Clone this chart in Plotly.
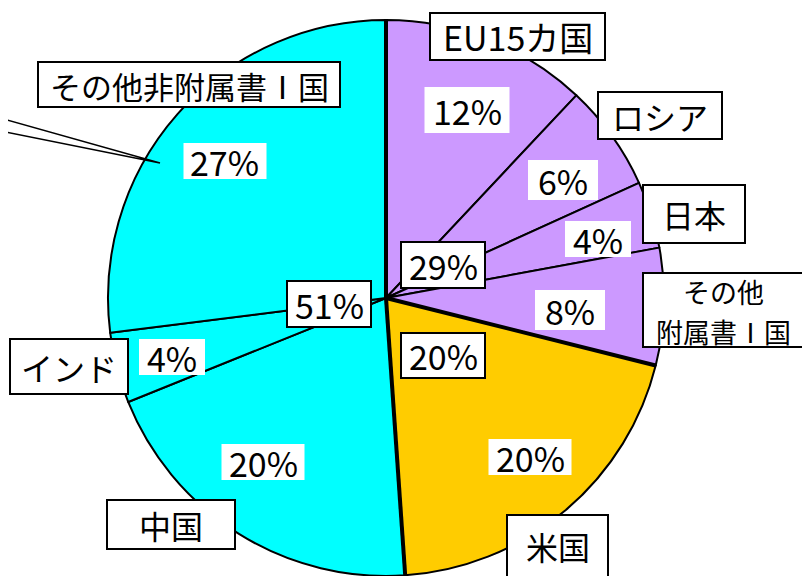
import math
import plotly.graph_objects as go

# ---------------- data ----------------
categories = ["EU15カ国", "ロシア", "日本", "その他<br>附属書Ⅰ国", "米国", "中国", "インド", "その他非附属書Ⅰ国"]
shares = [12.0, 6.2, 3.9, 6.8, 20.0, 20.0, 4.1, 27.0]
share_labels = ["12%", "6%", "4%", "8%", "20%", "20%", "4%", "27%"]
group_members = [[0, 1, 2, 3], [4], [5, 6, 7]]
group_labels = ["29%", "20%", "51%"]

# ---------------- styles / layout ----------------
W, H = 810, 576
OFF = 8  # page body margin
colors = ["#CC99FF", "#CC99FF", "#CC99FF", "#CC99FF", "#FFCC00", "#00FFFF", "#00FFFF", "#00FFFF"]
CX, CY, R = 386, 298, 278  # pie centre / radius in screen pixels
FONT = "Noto Sans CJK JP"

# name boxes (x0, y0, x1, y1) in screen pixels
name_boxes = [(430, 13, 605, 60), (598, 92, 722, 139), (643, 185, 745, 243), (643, 273, 804, 347),
              (507, 515, 608, 585), (107, 500, 235, 549), (10, 339, 128, 394), (38, 62, 340, 107)]
name_text_y = [37, 116, 214, 311, 546, 525, 367, 85]
name_sizes = [34, 32, 32, 27, 32, 32, 32, 31]
# percent boxes (cx, cy, w, h)
pct_boxes = [(467, 110, 85, 46), (563, 180, 70, 40), (598, 239, 66, 36), (570, 310, 70, 40),
             (530, 457, 83, 36), (263, 462, 83, 36), (172, 357, 66, 36), (225, 161, 83, 36)]
group_boxes = [(401, 242, 485, 288), (401, 333, 485, 378), (287, 281, 371, 327)]
LINE_PITCH = 40


def px(x):
    return (x - OFF) / W


def py(y):
    return 1 - (y - OFF) / H


fig = go.Figure(go.Pie(
    labels=categories, values=shares, sort=False, direction="clockwise", rotation=0,
    marker=dict(colors=colors, line=dict(color="black", width=2)),
    textinfo="none", hoverinfo="label+percent", showlegend=False,
    domain=dict(x=[px(CX - R), px(CX + R)], y=[py(CY + R), py(CY - R)]),
))

shapes = []
ann = []

# thick group boundary lines, derived from the data
total = sum(shares)
cum = 0.0
bounds = [0.0]
for members in group_members[:-1]:
    cum += sum(shares[i] for i in members)
    bounds.append(cum)
for b in bounds:
    th = 2 * math.pi * b / total
    ex = CX + R * math.sin(th)
    ey = CY - R * math.cos(th)
    shapes.append(dict(type="line", xref="paper", yref="paper", x0=px(CX), y0=py(CY),
                       x1=px(ex), y1=py(ey), line=dict(color="black", width=4)))

# callout pointer lines at left
shapes.append(dict(type="path", xref="paper", yref="paper",
                   path=f"M {px(0)},{py(118)} L {px(160)},{py(163)} L {px(0)},{py(131)}",
                   line=dict(color="black", width=1.5)))

# name label boxes
for name, size, ty, (x0, y0, x1, y1) in zip(categories, name_sizes, name_text_y, name_boxes):
    shapes.append(dict(type="rect", xref="paper", yref="paper", x0=px(x0), y0=py(y1), x1=px(x1), y1=py(y0),
                       fillcolor="white", line=dict(color="black", width=2)))
    lines = name.split("<br>")
    n = len(lines)
    for k, txt in enumerate(lines):
        yy = ty + (k - (n - 1) / 2) * LINE_PITCH
        ann.append(dict(x=px((x0 + x1) / 2), y=py(yy), xref="paper", yref="paper", text=txt,
                        showarrow=False, font=dict(family=FONT, size=size, color="black"),
                        xanchor="center", yanchor="middle"))

# group percentage boxes
for lab, (x0, y0, x1, y1) in zip(group_labels, group_boxes):
    shapes.append(dict(type="rect", xref="paper", yref="paper", x0=px(x0), y0=py(y1), x1=px(x1), y1=py(y0),
                       fillcolor="white", line=dict(color="black", width=2)))
    ann.append(dict(x=px((x0 + x1) / 2), y=py((y0 + y1) / 2), xref="paper", yref="paper", text=lab,
                    showarrow=False, font=dict(family=FONT, size=34, color="black"),
                    xanchor="center", yanchor="middle"))

# slice percentage boxes
for lab, (x, y, w, h) in zip(share_labels, pct_boxes):
    shapes.append(dict(type="rect", xref="paper", yref="paper", x0=px(x - w / 2), y0=py(y + h / 2),
                       x1=px(x + w / 2), y1=py(y - h / 2), fillcolor="white", line=dict(width=0)))
    ann.append(dict(x=px(x), y=py(y), xref="paper", yref="paper", text=lab, showarrow=False,
                    font=dict(family=FONT, size=34, color="black"),
                    xanchor="center", yanchor="middle"))

fig.update_layout(width=W, height=H, autosize=False, margin=dict(l=0, r=0, t=0, b=0),
                  paper_bgcolor="white", plot_bgcolor="white",
                  annotations=ann, shapes=shapes)
fig.write_html("out.html")
